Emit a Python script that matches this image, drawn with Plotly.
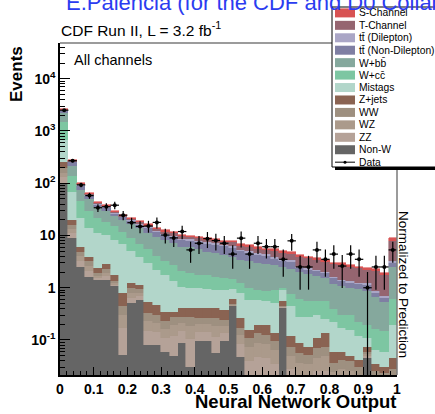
import math
import plotly.graph_objects as go

# ---------------- data ----------------
nn_centers = [0.0125, 0.0375, 0.0625, 0.0875, 0.1125, 0.1375, 0.1625, 0.1875, 0.2125, 0.2375,
              0.2625, 0.2875, 0.3125, 0.3375, 0.3625, 0.3875, 0.4125, 0.4375, 0.4625, 0.4875,
              0.5125, 0.5375, 0.5625, 0.5875, 0.6125, 0.6375, 0.6625, 0.6875, 0.7125, 0.7375,
              0.7625, 0.7875, 0.8125, 0.8375, 0.8625, 0.8875, 0.9125, 0.9375, 0.9625, 0.9875]
bin_width = 0.025

non_w = [101, 8.9, 2.55, 1.64, 1.4, 1.42, 1.06, 0.052, 0.51, 0.59, 0.08, 0.08, 0.06, 0.05, 0.087,
         0.031, 0.094, 0.094, 0.056, 0.094, 0.44, 0.048, 0.01, 0.01, 0.01, 0.01, 0.41, 0.008, 0.005, 0.005,
         0.005, 0.005, 0.005, 0.005, 0.005, 0.005, 0.045, 0.005, 0.005, 0.005]
zz = [28, 2.2, 0.7, 0.45, 0.15, 0.25, 0.09, 0.12, 0.14, 0.1, 0.07, 0.06, 0.05, 0.07, 0.06,
      0.075, 0.05, 0.05, 0.06, 0.045, 0.015, 0.036, 0.03, 0.037, 0.035, 0.025, 0.009, 0.02, 0.015, 0.014,
      0.02, 0.021, 0.009, 0.011, 0.01, 0.008, 0.005, 0.006, 0.005, 0.007]
wz = [30, 2.3, 0.75, 0.5, 0.16, 0.27, 0.1, 0.13, 0.15, 0.11, 0.08, 0.07, 0.05, 0.07, 0.06,
      0.082, 0.055, 0.055, 0.067, 0.049, 0.016, 0.04, 0.033, 0.041, 0.038, 0.028, 0.01, 0.022, 0.017, 0.016,
      0.021, 0.023, 0.01, 0.012, 0.011, 0.008, 0.005, 0.007, 0.006, 0.008]
ww = [35, 2.6, 0.9, 0.59, 0.19, 0.32, 0.12, 0.14, 0.18, 0.14, 0.1, 0.09, 0.07, 0.09, 0.073,
      0.092, 0.061, 0.061, 0.077, 0.055, 0.019, 0.045, 0.036, 0.047, 0.043, 0.031, 0.011, 0.025, 0.019, 0.017,
      0.024, 0.026, 0.012, 0.014, 0.013, 0.01, 0.005, 0.007, 0.007, 0.008]
zjets = [64, 3.9, 1.2, 0.77, 0.47, 0.56, 0.4, 0.35, 0.24, 0.2, 0.215, 0.17, 0.12, 0.07, 0.13,
         0.13, 0.15, 0.15, 0.15, 0.137, 0.11, 0.091, 0.048, 0.06, 0.069, 0.041, 0.11, 0.042, 0.031, 0.023,
         0.039, 0.06, 0.024, 0.018, 0.011, 0.011, 0.015, 0.009, 0.008, 0.017]
mistags = [415, 49.1, 15.9, 10.05, 8.63, 7.18, 6.43, 6.04, 3.91, 2.79, 2.415, 1.76, 1.37, 1.02, 0.64,
           0.57, 0.57, 0.53, 0.5, 0.53, 0.35, 0.55, 0.433, 0.395, 0.355, 0.365, 0.35, 0.333, 0.183, 0.195,
           0.191, 0.115, 0.16, 0.11, 0.105, 0.078, 0.035, 0.031, 0.029, 0.145]
wcc = [833, 70, 23, 16, 11, 8.5, 6.8, 5.07, 3.87, 3.07, 2.44, 1.91, 1.55, 1.31, 1.05,
       0.92, 0.79, 0.83, 0.73, 0.61, 0.51, 0.41, 0.39, 0.32, 0.3, 0.4, 0.1, 0.3, 0.33, 0.28,
       0.25, 0.3, 0.18, 0.13, 0.145, 0.10, 0.08, 0.095, 0.09, 0.41]
wbb = [672, 77, 30, 20, 12.7, 10.5, 8.5, 8.0, 7.4, 6.8, 6.0, 5.36, 4.77, 4.45, 3.9,
       4.1, 3.83, 3.13, 2.96, 2.74, 2.5, 2.19, 2.2, 2.04, 1.97, 1.8, 1.5, 1.55, 1.4, 1.3,
       1.1, 1.0, 0.8, 0.8, 0.7, 0.71, 0.68, 0.5, 0.38, 1.9]
tt_nondil = [280, 35, 13.5, 7, 4.4, 4.4, 2.8, 2.4, 2.4, 2.4, 2.35, 2.25, 2.16, 2.12, 2.05,
             1.97, 1.93, 2.08, 2.02, 1.95, 1.78, 1.53, 1.49, 1.33, 1.25, 0.86, 0.8, 0.8, 0.4, 0.38,
             0.4, 0.36, 0.32, 0.23, 0.23, 0.24, 0.26, 0.14, 0.11, 0.5]
tt_dil = [60, 8, 3, 1.8, 1.2, 1.1, 0.8, 0.6, 0.6, 0.6, 0.6, 0.55, 0.55, 0.55, 0.5,
          0.46, 0.44, 0.48, 0.47, 0.45, 0.43, 0.37, 0.37, 0.32, 0.31, 0.27, 0.25, 0.25, 0.15, 0.14,
          0.15, 0.13, 0.12, 0.09, 0.09, 0.09, 0.09, 0.05, 0.04, 0.18]
t_chan = [50, 12, 5, 3, 2.1, 2.0, 1.4, 1.1, 1.15, 1.15, 1.15, 1.15, 1.15, 1.2, 1.2,
          0.84, 0.81, 0.88, 0.86, 0.82, 1.18, 1.02, 1.0, 0.89, 0.83, 1.22, 1.12, 1.12, 1.41, 1.31,
          1.21, 1.13, 1.19, 1.32, 1.23, 1.11, 0.98, 1.25, 1.09, 4.82]
s_chan = [27, 8, 3.5, 2.2, 1.6, 1.5, 1.0, 0.8, 0.85, 0.85, 0.8, 0.75, 0.7, 0.7, 0.65,
          0.53, 0.52, 0.56, 0.55, 0.52, 0.55, 0.47, 0.46, 0.41, 0.39, 0.35, 0.33, 0.33, 0.3, 0.28,
          0.26, 0.24, 0.21, 0.21, 0.19, 0.18, 0.17, 0.16, 0.13, 0.9]
data_counts = [2500, 270, 93, 58, 34, 35.5, 38, 24.5, 17.6, 14.9, 15.2, 17.8, 10.2, 9.0, 11.9,
               5.3, 7.1, 8.7, 8.0, 7.1, 4.4, 8.9, 4.4, 7.1, 6.1, 6.1, 3.5, 7.9, 2.5, 2.5,
               5.3, 3.5, 4.4, 2.6, 4.4, 3.5, 1.0, 2.5, 2.5, 5.3]

# stack order bottom -> top
comp_names = ["Non-W", "ZZ", "WZ", "WW", "Z+jets", "Mistags", "W+cc\u0304", "W+bb\u0304",
              "tt\u0304 (Non-Dilepton)", "tt\u0304 (Dilepton)", "T-Channel", "S-Channel"]
comp_values = [non_w, zz, wz, ww, zjets, mistags, wcc, wbb, tt_nondil, tt_dil, t_chan, s_chan]
comp_colors = ["#656565", "#b5a298", "#ab9a8b", "#9e9080", "#8a6352", "#b2d6ca", "#7dc6a2",
               "#85a89d", "#7f7fa3", "#aaa6c6", "#956570", "#d85353"]

x_ticks = [0, 0.1, 0.2, 0.3, 0.4, 0.5, 0.6, 0.7, 0.8, 0.9, 1]
x_ticktext = ["0", "0.1", "0.2", "0.3", "0.4", "0.5", "0.6", "0.7", "0.8", "0.9", "1"]
y_ticks = [0.1, 1, 10, 100, 1000, 10000]
y_ticktext = ["10<sup>-1</sup>", "1", "10", "10<sup>2</sup>", "10<sup>3</sup>", "10<sup>4</sup>"]

FONT = "Liberation Sans, Arial, Helvetica, sans-serif"

# ---------------- figure ----------------
fig = go.Figure()
for name, vals, col in zip(comp_names, comp_values, comp_colors):
    fig.add_trace(go.Bar(x=nn_centers, y=vals, width=bin_width, name=name,
                         marker=dict(color=col, line=dict(color=col, width=0.6)),
                         showlegend=False, hoverinfo="skip"))

err_up = [math.sqrt(v) for v in data_counts]
err_dn = [min(math.sqrt(v), 0.999 * v) for v in data_counts]
fig.add_trace(go.Scatter(x=nn_centers, y=data_counts, mode="markers", name="Data",
                         marker=dict(color="black", size=4),
                         error_x=dict(type="constant", value=bin_width / 2, color="black",
                                      thickness=1.2, width=0),
                         error_y=dict(type="data", symmetric=False, array=err_up, arrayminus=err_dn,
                                      color="black", thickness=1.2, width=0),
                         showlegend=False, hoverinfo="skip"))

L, R, T, B = 60, 38, 43, 39
W, H = 435, 414
pw, ph = W - L - R, H - T - B


def px(xp):
    return (xp - L) / pw


def py(yp):
    return 1 - (yp - T) / ph


fig.update_layout(
    width=W, height=H, barmode="stack", bargap=0,
    margin=dict(l=L, r=R, t=T, b=B, pad=0, autoexpand=False),
    paper_bgcolor="white", plot_bgcolor="white",
    font=dict(family=FONT, color="black"),
    showlegend=False,
    xaxis=dict(range=[0, 1], tickvals=x_ticks, ticktext=["<b>%s</b>" % t for t in x_ticktext],
               automargin=False,
               ticks="inside", ticklen=8, tickwidth=1, tickcolor="black",
               showline=True, linecolor="black", linewidth=1.5, showgrid=False, zeroline=False,
               tickfont=dict(size=14, family=FONT),
               minor=dict(ticks="inside", ticklen=4, dtick=0.02, tick0=0, tickcolor="black",
                          showgrid=False)),
    yaxis=dict(type="log", range=[-1.67, 4.684], tickvals=y_ticks,
               ticktext=["<b>%s</b>" % t for t in y_ticktext],
               automargin=False,
               ticks="inside", ticklen=10, tickwidth=1, tickcolor="black",
               showline=True, linecolor="black", linewidth=1.5, showgrid=False, zeroline=False,
               tickfont=dict(size=14, family=FONT),
               minor=dict(ticks="inside", ticklen=5, tickcolor="black", showgrid=False,
                          tickvals=[k * 10 ** n for n in range(-2, 5) for k in range(2, 10)])),
)

shapes = []
# top and right frame (gray)
shapes.append(dict(type="line", xref="paper", yref="paper", x0=0, x1=1, y0=1, y1=1,
                   line=dict(color="#7a7a7a", width=1.5)))
shapes.append(dict(type="line", xref="paper", yref="paper", x0=1, x1=1, y0=0, y1=1,
                   line=dict(color="#7a7a7a", width=1.5)))
# legend box with shadow
shapes.append(dict(type="rect", xref="paper", yref="paper", layer="above",
                   x0=px(335), x1=px(445), y0=py(170), y1=py(10),
                   fillcolor="black", line=dict(width=0)))
shapes.append(dict(type="rect", xref="paper", yref="paper", layer="above",
                   x0=px(332), x1=px(442), y0=py(167), y1=py(7),
                   fillcolor="white", line=dict(color="black", width=1)))

annotations = []
legend_items = list(zip(comp_names, comp_colors))[::-1]
y0_leg, dy_leg = 12.9, 12.44
for i, (name, col) in enumerate(legend_items):
    yc = y0_leg + i * dy_leg
    shapes.append(dict(type="rect", xref="paper", yref="paper", layer="above",
                       x0=px(335), x1=px(355), y0=py(yc + 4.5), y1=py(yc - 4.5),
                       fillcolor=col, line=dict(width=0)))
    annotations.append(dict(text=name, x=px(357), y=py(yc), xref="paper", yref="paper",
                            xanchor="left", yanchor="middle", showarrow=False,
                            font=dict(size=10.3, family=FONT, color="black")))
yc = y0_leg + len(legend_items) * dy_leg
shapes.append(dict(type="line", xref="paper", yref="paper", layer="above",
                   x0=px(335), x1=px(355), y0=py(yc), y1=py(yc), line=dict(color="black", width=1)))
shapes.append(dict(type="circle", xref="paper", yref="paper", layer="above",
                   x0=px(343.5), x1=px(346.5), y0=py(yc + 1.5), y1=py(yc - 1.5),
                   fillcolor="black", line=dict(width=0)))
annotations.append(dict(text="Data", x=px(357), y=py(yc), xref="paper", yref="paper",
                        xanchor="left", yanchor="middle", showarrow=False,
                        font=dict(size=10.3, family=FONT, color="black")))

# texts
annotations += [
    dict(text="E.Palencia (for the CDF and D0 Collaborations)", x=px(64), y=py(17),
         xref="paper", yref="paper", xanchor="left", yanchor="bottom", showarrow=False,
         font=dict(size=22, family=FONT, color="#2b3cf0")),
    dict(text="CDF Run II, L = 3.2 fb<sup>-1</sup>", x=px(59), y=py(29), xref="paper", yref="paper",
         xanchor="left", yanchor="middle", showarrow=False, font=dict(size=15.5, family=FONT)),
    dict(text="All channels", x=px(72), y=py(60), xref="paper", yref="paper",
         xanchor="left", yanchor="middle", showarrow=False, font=dict(size=14.5, family=FONT)),
    dict(text="<b>Events</b>", x=px(16), y=py(74), xref="paper", yref="paper",
         xanchor="center", yanchor="middle", textangle=-90, showarrow=False,
         font=dict(size=17, family=FONT)),
    dict(text="<b>Neural Network Output</b>", x=px(398), y=py(401), xref="paper", yref="paper",
         xanchor="right", yanchor="middle", showarrow=False, font=dict(size=18.5, family=FONT)),
    dict(text="Normalized to Prediction", x=px(404), y=py(284), xref="paper", yref="paper",
         xanchor="center", yanchor="middle", textangle=90, showarrow=False,
         font=dict(size=13.5, family=FONT)),
]

fig.update_layout(shapes=shapes, annotations=annotations)
fig.write_html("out.html", include_plotlyjs=True, config={"displayModeBar": False},
               post_script="document.body.style.margin='0';document.body.style.overflow='hidden';")
